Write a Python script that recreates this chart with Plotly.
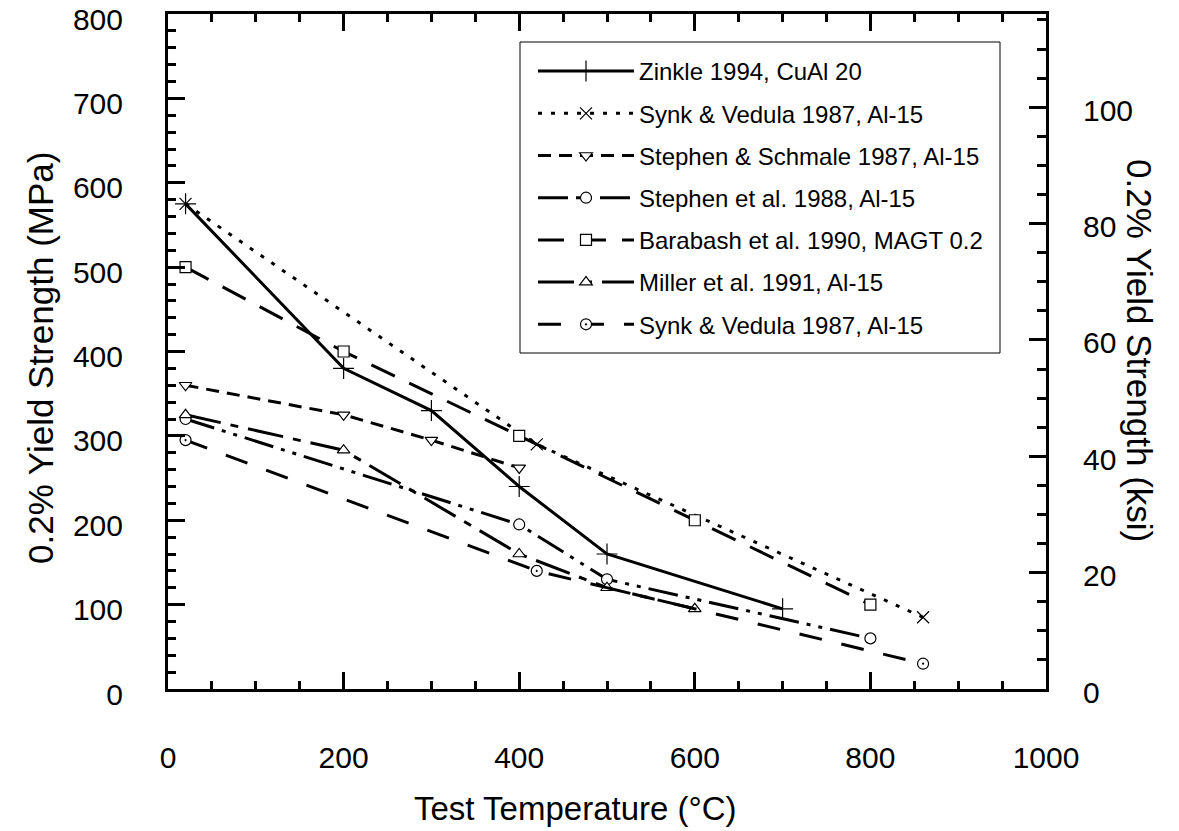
import plotly.graph_objects as go

# ---- data ----
temp_zinkle = [20, 200, 300, 400, 500, 700]
ys_zinkle = [575, 380, 330, 240, 160, 95]

temp_synk1 = [20, 420, 860]
ys_synk1 = [575, 290, 85]

temp_schmale = [20, 200, 300, 400]
ys_schmale = [360, 325, 295, 262]

temp_stephen88 = [20, 400, 500, 800]
ys_stephen88 = [320, 195, 130, 60]

temp_barabash = [20, 200, 400, 600, 800]
ys_barabash = [500, 400, 300, 200, 100]

temp_miller = [20, 200, 400, 500, 600]
ys_miller = [325, 283, 160, 120, 95]

temp_synk2 = [20, 420, 860]
ys_synk2 = [295, 140, 30]

names = [
    "Zinkle 1994, CuAl 20",
    "Synk & Vedula 1987, Al-15",
    "Stephen & Schmale 1987, Al-15",
    "Stephen et al. 1988, Al-15",
    "Barabash et al. 1990, MAGT 0.2",
    "Miller et al. 1991, Al-15",
    "Synk & Vedula 1987, Al-15",
]

MPA_PER_KSI = 6.894757
FONT = "Liberation Sans, Arial, Helvetica, sans-serif"

# plot area in pixels
L, R, T, B = 168, 1046, 14, 689
PW, PH = R - L, B - T


def px(xp):
    return (xp - L) / PW


def py(yp):
    return (B - yp) / PH


series = [
    (temp_zinkle, ys_zinkle, "solid", "cross-thin", 15, "black"),
    (temp_synk1, ys_synk1, "4px,9px", "x-thin", 12, "black"),
    (temp_schmale, ys_schmale, "13px,8px", "triangle-down", 11, "white"),
    (temp_stephen88, ys_stephen88, "30px,8px,4px,8px,4px,8px", "circle", 11, "white"),
    (temp_barabash, ys_barabash, "26px,16px", "square", 11, "white"),
    (temp_miller, ys_miller, "36px,10px,8px,10px", "triangle-up", 11, "white"),
    (temp_synk2, ys_synk2, "23px,20px", "circle-dot", 11, "white"),
]

fig = go.Figure()
for i, (xs, ys, dash, sym, size, fill) in enumerate(series):
    fig.add_trace(go.Scatter(
        x=xs, y=ys, name=names[i], mode="lines+markers",
        legendgroup="g%d" % i,
        line=dict(color="black", width=3, dash=dash),
        marker=dict(symbol=sym, size=size, color=fill,
                    line=dict(color="black", width=1.2)),
    ))

# invisible trace to activate the right (ksi) axis
fig.add_trace(go.Scatter(x=[0], y=[0], yaxis="y2", mode="markers",
                         marker=dict(opacity=0), showlegend=False,
                         hoverinfo="skip"))

tick_common = dict(ticks="inside", ticklen=17, tickwidth=2.5, tickcolor="black",
                   showline=True, linewidth=3, linecolor="black",
                   showgrid=False, zeroline=False, ticklabeloverflow="allow",
                   automargin=False, tickfont=dict(size=30))

fig.update_layout(
    width=1179, height=831,
    margin=dict(l=L, r=1179 - R, t=T, b=831 - B, autoexpand=False),
    paper_bgcolor="white", plot_bgcolor="white",
    font=dict(family=FONT, color="black", size=30),
    xaxis=dict(
        range=[0, 1000], tickvals=[0, 200, 400, 600, 800, 1000],
        minor=dict(dtick=50, tick0=0, ticks="inside", ticklen=8,
                   tickwidth=2.5, tickcolor="black"),
        mirror="ticks", ticklabelstandoff=40, **tick_common,
    ),
    yaxis=dict(
        range=[0, 800], dtick=100, tick0=0,
        minor=dict(dtick=20, tick0=0, ticks="inside", ticklen=8,
                   tickwidth=2.5, tickcolor="black"),
        ticklabelstandoff=36, ticklabelshift=5, **tick_common,
    ),
    yaxis2=dict(
        range=[0, 800 / MPA_PER_KSI], dtick=20, tick0=0,
        overlaying="y", side="right",
        minor=dict(dtick=5, tick0=0, ticks="inside", ticklen=9,
                   tickwidth=2.5, tickcolor="black"),
        ticklabelstandoff=28, ticklabelshift=3, **tick_common,
    ),
    legend=dict(
        x=px(533), y=py(49),
        xanchor="left", yanchor="top",
        bgcolor="rgba(0,0,0,0)", borderwidth=0,
        font=dict(size=24, family=FONT), itemwidth=96,
        tracegroupgap=8,
    ),
    showlegend=True,
    shapes=[
        dict(type="rect", xref="paper", yref="paper",
             x0=px(520), x1=px(1000), y0=py(353), y1=py(42),
             line=dict(color="black", width=1), fillcolor="white",
             layer="above"),
    ],
    annotations=[
        dict(text="Test Temperature (°C)", xref="paper", yref="paper",
             x=px(575), y=0, yshift=-(808 - B), showarrow=False,
             xanchor="center", yanchor="middle", font=dict(size=33)),
        dict(text="0.2% Yield Strength (MPa)", xref="paper", yref="paper",
             x=0, xshift=40 - L, y=py(358), showarrow=False, textangle=-90,
             xanchor="center", yanchor="middle", font=dict(size=35)),
        dict(text="0.2% Yield Strength (ksi)", xref="paper", yref="paper",
             x=1, xshift=1140 - R, y=py(350), showarrow=False, textangle=90,
             xanchor="center", yanchor="middle", font=dict(size=35)),
    ],
)

fig.write_html("out.html")
